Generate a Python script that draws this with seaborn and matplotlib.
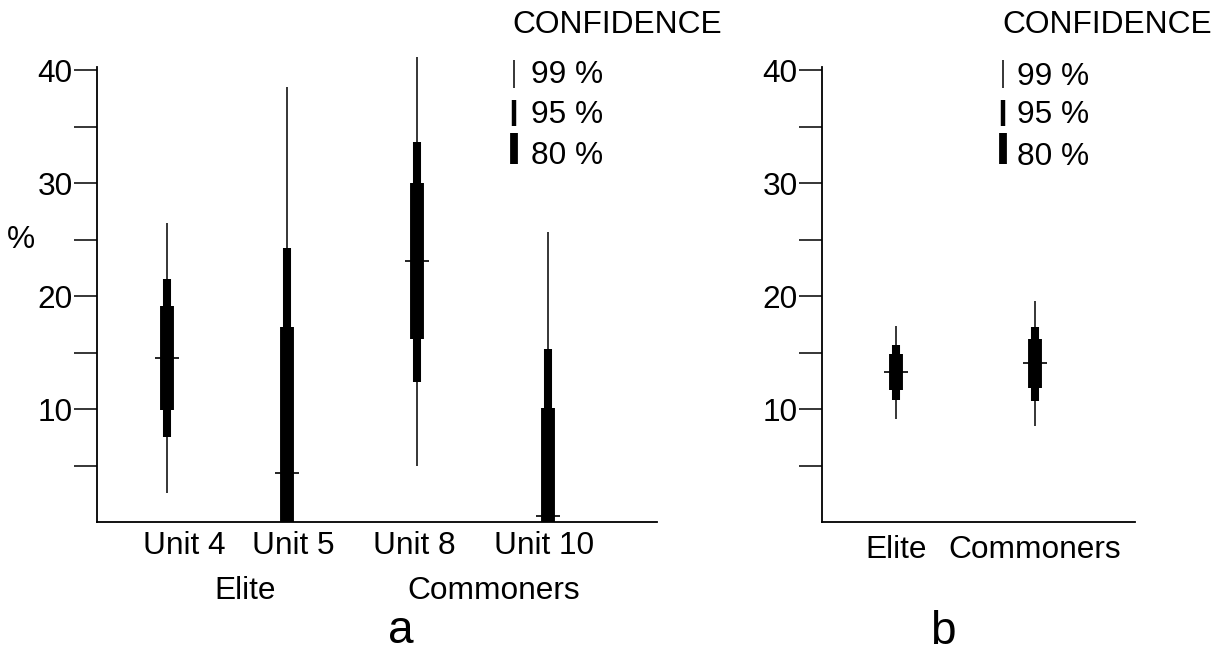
import pandas as pd
import matplotlib
matplotlib.use("Agg")
import matplotlib.pyplot as plt
import seaborn as sns
from matplotlib.lines import Line2D

# panel a: individual units
units_a = ["Unit 4", "Unit 5", "Unit 8", "Unit 10"]
median_a = [14.5, 4.3, 23.1, 0.5]
lo99_a = [2.6, 0.0, 5.0, 0.0]
hi99_a = [26.5, 38.5, 41.2, 25.7]
lo95_a = [7.5, 0.0, 12.4, 0.0]
hi95_a = [21.5, 24.3, 33.7, 15.3]
lo80_a = [9.9, 0.0, 16.2, 0.0]
hi80_a = [19.1, 17.3, 30.0, 10.1]
groups_a = ["Elite", "Commoners"]

# panel b: pooled by status
status_b = ["Elite", "Commoners"]
median_b = [13.3, 14.1]
lo99_b = [9.1, 8.5]
hi99_b = [17.4, 19.6]
lo95_b = [10.8, 10.7]
hi95_b = [15.7, 17.3]
lo80_b = [11.7, 11.9]
hi80_b = [14.9, 16.2]

levels = ["99 %", "95 %", "80 %"]
yticks = [5, 10, 15, 20, 25, 30, 35, 40]
ytick_labels = ["", "10", "", "20", "", "30", "", "40"]

# layout (x positions of the categories on a numeric axis)
pos_a = [0.54, 1.46, 2.46, 3.46]
label_pos_a = [0.67, 1.51, 2.44, 3.43]
pos_b = [1.0, 2.0]
bar_widths = {"99 %": 1.1, "95 %": 5.8, "80 %": 10.0}
key_widths = {"99 %": 1.1, "95 %": 3.2, "80 %": 5.6}

W, H = 1215, 651
FS = 22.8


def fx(px):
    return px / W


def fy(py):
    return 1 - py / H


def interval_frame(names, pos, los, his):
    rows = []
    for lev, lo, hi in zip(levels, los, his):
        for name, x, a, b in zip(names, pos, lo, hi):
            rows.append({"name": name, "x": x, "level": lev, "seg": name + lev, "value": a})
            rows.append({"name": name, "x": x, "level": lev, "seg": name + lev, "value": b})
    return pd.DataFrame(rows)


def draw_panel(ax, names, pos, medians, los, his):
    df = interval_frame(names, pos, los, his)
    sns.lineplot(data=df, x="x", y="value", units="seg", estimator=None,
                 size="level", sizes=bar_widths, color="black", legend=False,
                 sort=False, ax=ax, solid_capstyle="butt", clip_on=False)
    med = pd.DataFrame({"x": pos, "median": medians})
    sns.scatterplot(data=med, x="x", y="median", marker="_", s=300,
                    color="black", edgecolor="black", linewidth=1.2,
                    ax=ax, clip_on=False, zorder=3)
    ax.set_ylim(0, 40.3)
    ax.set_yticks(yticks)
    ax.set_yticklabels(ytick_labels)
    ax.tick_params(axis="y", length=16.6, width=1.1, pad=1, labelsize=FS)
    ax.tick_params(axis="x", length=0, labelsize=FS)
    ax.set_xlabel("")
    ax.set_ylabel("")
    sns.despine(ax=ax)
    for s in ["left", "bottom"]:
        ax.spines[s].set_linewidth(1.3)


def draw_key(fig, glyph_x, text_x, title_x, text_base):
    fig.text(fx(title_x), fy(33), "CONFIDENCE", fontsize=FS, va="baseline", ha="left")
    spans = [(60, 88), (100, 126), (133, 164)]
    for lev, (y0, y1), base in zip(levels, spans, text_base):
        fig.add_artist(Line2D([fx(glyph_x), fx(glyph_x)], [fy(y0), fy(y1)],
                              color="black", lw=key_widths[lev], solid_capstyle="butt"))
        fig.text(fx(text_x), fy(base), lev, fontsize=FS, va="baseline", ha="left")


sns.set_theme(style="ticks")
plt.rcParams["font.family"] = ["Liberation Sans", "DejaVu Sans"]
plt.rcParams.update({
    "text.color": "black",
    "axes.edgecolor": "black",
    "axes.labelcolor": "black",
    "xtick.color": "black",
    "ytick.color": "black",
})

fig = plt.figure(figsize=(W / 100, H / 100), dpi=100)
ax_a = fig.add_axes([fx(97), fy(522), 560 / W, 455 / H])
ax_b = fig.add_axes([fx(822), fy(522), 313 / W, 455 / H])

draw_panel(ax_a, units_a, pos_a, median_a,
           [lo99_a, lo95_a, lo80_a], [hi99_a, hi95_a, hi80_a])
ax_a.set_xlim(0, 4.3)
ax_a.set_xticks(label_pos_a)
ax_a.set_xticklabels(units_a)
ax_a.tick_params(axis="x", pad=6.5)

draw_panel(ax_b, status_b, pos_b, median_b,
           [lo99_b, lo95_b, lo80_b], [hi99_b, hi95_b, hi80_b])
ax_b.set_xlim(0.47, 2.72)
ax_b.set_xticks(pos_b)
ax_b.set_xticklabels(status_b)
ax_b.tick_params(axis="x", pad=9.4)

fig.text(fx(21), fy(248), "%", fontsize=FS, ha="center", va="baseline")
fig.text(fx(245), fy(599), groups_a[0], fontsize=FS, ha="center", va="baseline")
fig.text(fx(494), fy(599), groups_a[1], fontsize=FS, ha="center", va="baseline")
fig.text(fx(401), fy(643), "a", fontsize=33, ha="center", va="baseline")
fig.text(fx(943), fy(644), "b", fontsize=33, ha="center", va="baseline")

draw_key(fig, 514, 531, 512, [83, 123, 164])
draw_key(fig, 1003, 1017, 1002, [85, 123, 165])

fig.savefig("out.png", dpi=100)
